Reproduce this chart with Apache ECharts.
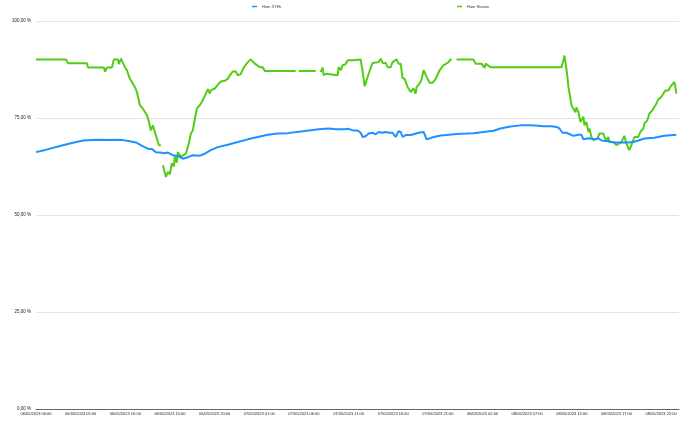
<!DOCTYPE html>
<html>
<head>
<meta charset="utf-8">
<script src="https://cdn.jsdelivr.net/npm/echarts@6/dist/echarts.min.js"></script>
<style>
html,body{margin:0;padding:0;background:#fff;}
#chart{width:690px;height:426px;}
</style>
</head>
<body>
<div id="chart"></div>
<script>
// hours since 06/05/2023 00:00 -> relative humidity (%)
const seriesNames = ['Hum XTHL', 'Hum Station'];
const xTickLabels = ['06/05/2023 00:00','06/05/2023 05:00','06/05/2023 10:00','06/05/2023 15:00','06/05/2023 20:00',
  '07/05/2023 01:00','07/05/2023 06:00','07/05/2023 11:00','07/05/2023 16:00','07/05/2023 21:00',
  '08/05/2023 02:00','08/05/2023 07:00','08/05/2023 12:00','08/05/2023 17:00','08/05/2023 22:00'];
const yTicks = [0, 25, 50, 75, 100];

const xthlData = [[0,66.2],[0.78,66.6],[1.57,67.1],[3.02,68.0],[4.14,68.6],[5.26,69.2],[6.82,69.4],[8.28,69.3],[9.06,69.4],[9.73,69.3],[10.51,69.0],[11.30,68.6],[11.86,67.8],[12.53,67.1],[12.98,67.0],[13.20,67.2],[13.42,66.2],[13.87,66.1],[14.43,65.9],[14.77,66.1],[14.99,65.6],[15.32,65.4],[15.88,65.2],[16.44,64.5],[17.00,64.9],[17.56,65.4],[18.34,65.3],[18.90,65.8],[19.57,66.7],[20.36,67.5],[21.48,68.1],[22.60,68.8],[23.71,69.5],[24.83,70.1],[25.95,70.7],[27.07,71.0],[28.19,71.1],[29.87,71.6],[31.66,72.1],[32.77,72.3],[33.56,72.1],[34.12,72.1],[34.34,72.6],[34.56,72.1],[35.01,72.2],[35.46,71.8],[36.02,71.8],[36.35,71.2],[36.58,70.1],[36.91,70.3],[37.25,71.0],[37.47,70.6],[37.70,71.2],[38.03,70.8],[38.37,71.4],[38.81,71.2],[39.15,71.4],[39.49,71.2],[39.93,71.2],[40.27,70.1],[40.60,71.6],[40.83,71.4],[41.05,70.1],[41.39,70.6],[41.95,70.6],[42.28,70.8],[42.84,71.2],[43.40,71.4],[43.62,71.2],[43.74,69.5],[43.96,69.5],[44.52,70.1],[45.30,70.5],[45.97,70.6],[47.09,70.9],[48.21,71.0],[48.99,71.1],[50.11,71.4],[51.23,71.7],[52.01,72.3],[53.13,72.8],[54.25,73.1],[55.37,73.1],[56.26,73.0],[56.82,72.9],[57.72,72.9],[58.28,72.7],[58.61,72.3],[58.95,71.2],[59.40,71.2],[59.62,70.7],[60.18,70.4],[60.74,70.7],[61.07,70.7],[61.30,69.5],[61.86,69.8],[62.53,69.5],[62.98,69.8],[63.31,69.2],[64.09,69.0],[64.77,68.7],[65.55,68.7],[66.33,68.7],[66.89,68.8],[67.45,69.2],[68.12,69.7],[69.24,69.9],[70.36,70.4],[71.70,70.7]];

const stationData = [[0,90.1],[3.36,90.1],[3.58,89.1],[5.70,89.1],[5.82,88.0],[7.61,88.0],[7.72,86.9],[7.94,88.0],[8.50,88.0],[8.72,90.1],[9.17,90.1],[9.28,88.9],[9.51,90.3],[9.96,88.1],[10.18,87.3],[10.51,85.1],[10.74,84.3],[11.07,83.0],[11.30,81.7],[11.63,78.3],[11.97,77.4],[12.42,75.7],[12.64,74.0],[12.86,71.8],[13.09,73.1],[13.31,71.4],[13.65,68.8],[13.76,68.0],[13.98,68.0],[14.10,null],[14.21,62.8],[14.54,59.8],[14.77,61.1],[14.99,60.5],[15.21,63.3],[15.44,62.5],[15.55,65.1],[15.77,63.5],[15.88,66.2],[16.22,65.0],[16.44,65.0],[16.78,65.8],[17.11,68.4],[17.34,71.0],[17.56,71.8],[17.79,74.8],[18.01,77.4],[18.34,78.3],[18.68,79.6],[19.02,81.3],[19.24,82.4],[19.46,81.3],[19.57,82.1],[20.02,82.6],[20.36,83.6],[20.69,84.4],[21.14,84.6],[21.48,85.1],[21.70,86.0],[22.04,87.0],[22.37,87.0],[22.60,86.0],[22.93,86.3],[23.15,87.5],[23.38,88.4],[23.71,89.4],[24.05,90.1],[24.27,89.9],[24.50,89.0],[24.72,89.4],[25.06,88.1],[25.39,88.1],[25.62,87.1],[29.08,87.1],[29.25,null],[29.42,87.1],[31.32,87.1],[31.60,null],[31.88,86.8],[32.10,88.0],[32.21,86.0],[32.44,86.4],[32.66,86.0],[33.78,86.0],[33.89,88.1],[34.12,87.3],[34.34,88.6],[34.68,88.9],[34.90,89.9],[35.46,89.9],[35.57,90.1],[36.35,90.1],[36.58,86.9],[36.80,83.2],[37.14,85.6],[37.25,86.4],[37.58,88.6],[37.70,89.2],[38.37,89.4],[38.59,90.3],[38.81,89.2],[39.15,89.2],[39.37,88.1],[39.71,88.1],[39.93,89.4],[40.04,89.2],[40.38,90.1],[40.60,89.0],[40.83,89.0],[41.05,85.3],[41.28,85.1],[41.61,83.0],[41.72,82.6],[41.95,81.7],[42.17,81.3],[42.28,82.6],[42.51,81.3],[42.62,83.0],[42.84,83.6],[43.06,84.3],[43.18,85.0],[43.40,87.3],[43.62,87.0],[43.74,85.6],[44.07,84.1],[44.41,84.1],[44.74,85.0],[44.85,85.6],[45.19,87.3],[45.41,87.7],[45.64,88.6],[45.86,89.0],[46.20,89.4],[46.42,90.1],[46.53,90.1],[46.76,null],[47.09,90.1],[48.99,90.1],[49.22,89.0],[49.89,89.0],[50.22,87.9],[50.34,89.0],[50.56,89.0],[50.89,88.1],[58.84,88.1],[59.06,89.9],[59.17,91.1],[59.28,89.5],[59.51,85.6],[59.62,83.0],[59.84,83.0],[59.96,78.3],[60.18,78.0],[60.40,76.5],[60.51,77.7],[60.74,76.5],[60.96,74.0],[61.30,75.3],[61.41,73.1],[61.63,74.0],[61.86,71.4],[61.97,72.3],[62.19,70.1],[62.42,69.3],[62.53,68.8],[62.86,69.7],[63.09,71.0],[63.53,71.0],[63.65,70.1],[63.87,69.3],[64.09,70.1],[64.21,68.8],[64.65,68.8],[64.99,68.0],[65.21,68.0],[65.55,68.8],[65.88,70.4],[66.11,68.4],[66.33,68.0],[66.44,66.7],[66.67,68.0],[67.00,70.1],[67.45,70.1],[67.67,71.4],[68.01,72.3],[68.12,73.6],[68.46,74.4],[68.68,76.1],[69.02,77.0],[69.24,77.4],[69.46,78.7],[69.69,79.8],[70.02,80.4],[70.25,81.3],[70.47,82.1],[70.81,82.1],[71.03,83.0],[71.25,83.0],[71.48,84.3],[71.59,83.0],[71.70,81.3]];

const colors = ['#1E90FF', '#52CC17'];
const fontFamily = 'Liberation Sans, Arial, sans-serif';

function toSeriesData(arr) {
  return arr.map(p => [p[0], p[1] === null ? '-' : p[1]]);
}

const chart = echarts.init(document.getElementById('chart'), null, {renderer: 'canvas'});
chart.setOption({
  animation: false,
  backgroundColor: '#ffffff',
  textStyle: {fontFamily: fontFamily},
  legend: [
    {data: [seriesNames[0]], left: 252, top: 4.5, padding: 0, icon: 'rect', itemWidth: 5, itemHeight: 1.5,
     textStyle: {fontSize: 4, color: '#333', fontFamily: fontFamily}},
    {data: [seriesNames[1]], left: 457, top: 4.5, padding: 0, icon: 'rect', itemWidth: 5, itemHeight: 1.5,
     textStyle: {fontSize: 4, color: '#333', fontFamily: fontFamily}}
  ],
  grid: {left: 36, right: 11, top: 21, bottom: 17, containLabel: false},
  xAxis: {
    type: 'value', min: 0, max: 72, interval: 5,
    axisLine: {show: true, lineStyle: {color: '#666', width: 1}},
    axisTick: {show: false},
    splitLine: {show: false},
    axisLabel: {
      fontSize: 4, color: '#222', margin: 3, showMaxLabel: false, fontFamily: fontFamily,
      formatter: v => (v % 5 === 0 && xTickLabels[v / 5]) ? xTickLabels[v / 5] : ''
    }
  },
  yAxis: {
    type: 'value', min: yTicks[0], max: yTicks[yTicks.length - 1], interval: 25,
    axisLine: {show: false},
    axisTick: {show: false},
    splitLine: {show: true, lineStyle: {color: '#e3e3e3', width: 1}},
    axisLabel: {
      fontSize: 4.5, color: '#222', margin: 5, fontFamily: fontFamily,
      formatter: v => v.toFixed(2).replace('.', ',') + ' %'
    }
  },
  series: [
    {name: seriesNames[0], type: 'line', data: toSeriesData(xthlData), showSymbol: false, connectNulls: false,
     color: colors[0], lineStyle: {width: 2, color: colors[0]}, z: 3},
    {name: seriesNames[1], type: 'line', data: toSeriesData(stationData), showSymbol: false, connectNulls: false,
     color: colors[1], lineStyle: {width: 2, color: colors[1]}, z: 2}
  ]
});
</script>
</body>
</html>
